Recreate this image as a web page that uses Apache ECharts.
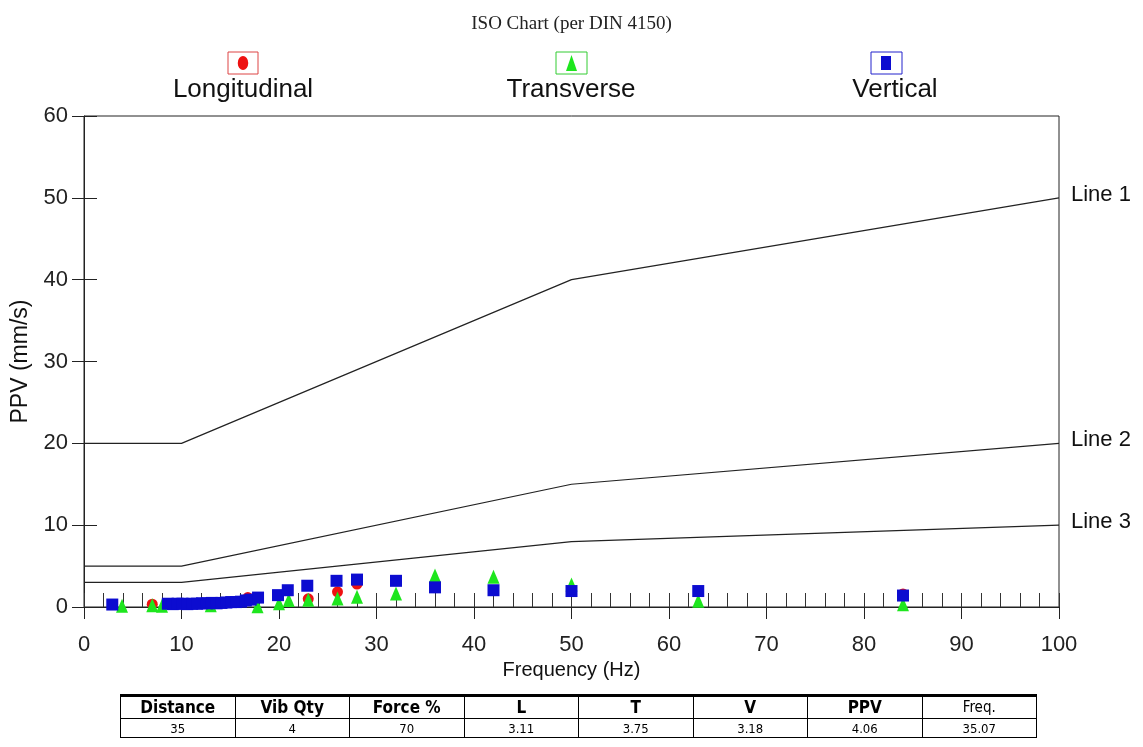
<!DOCTYPE html>
<html><head><meta charset="utf-8">
<script src="https://cdn.jsdelivr.net/npm/echarts@6/dist/echarts.min.js"></script>
<style>
html,body{margin:0;padding:0;background:#fff;}
#chart{position:absolute;left:0;top:0;width:1143px;height:747px;}
#tbl{position:absolute;left:120px;top:694px;width:917px;border-collapse:collapse;table-layout:fixed;font-family:"DejaVu Sans Condensed","Liberation Sans Narrow","Liberation Sans",sans-serif;}
#tbl td{border:1px solid #000;text-align:center;padding:0;color:#000;line-height:1;}
#tbl tr.h td{height:21px;font-weight:bold;font-size:17px;border-top:3px solid #000;}
#tbl tr.h td.n{font-weight:normal;font-size:15px;}
#tbl tr.v td{height:18px;font-size:13px;}
</style></head><body>
<div id="chart"></div>
<table id="tbl"><tbody><tr class="h" id="hrow"></tr><tr class="v" id="vrow"></tr></tbody></table>
<script>
// ---- data ----
const xTickStep = 10;
const yTickStep = 10;
const lineFreq = [0, 10, 50, 100];
const line1 = [20, 20, 40, 50];
const line2 = [5, 5, 15, 20];
const line3 = [3, 3, 8, 10];
const lineNames = ['Line 1', 'Line 2', 'Line 3'];

const longFreq = [7, 13, 16.8, 23, 26, 28, 84];
const longPPV  = [0.35, 0.4, 1.15, 1.0, 1.85, 2.8, 1.6];

const transFreq = [3.9, 7, 8, 13, 17.8, 20, 21, 23, 26, 28, 32, 36, 42, 50, 63, 84];
const transPPV  = [0.15, 0.2, 0.15, 0.2, 0.1, 0.45, 0.85, 0.9, 1.05, 1.25, 1.65, 3.85, 3.7, 2.75, 0.75, 0.35];

const vertFreq = [2.9, 8.6, 9.1, 9.6, 10.1, 10.6, 11.1, 11.6, 12.1, 12.6, 13.1, 13.6, 14.1, 14.6, 15.1, 15.6, 16.1, 16.6, 17.1, 17.85, 19.9, 20.9, 22.9, 25.9, 28, 32, 36, 42, 50, 63, 84];
const vertPPV  = [0.3, 0.4, 0.35, 0.4, 0.4, 0.35, 0.4, 0.4, 0.45, 0.45, 0.5, 0.45, 0.5, 0.55, 0.6, 0.6, 0.65, 0.8, 0.9, 1.15, 1.45, 2.05, 2.6, 3.2, 3.35, 3.2, 2.4, 2.05, 1.95, 1.95, 1.4];

const legendNames = ['Longitudinal', 'Transverse', 'Vertical'];
const tableHeaders = ['Distance', 'Vib Qty', 'Force %', 'L', 'T', 'V', 'PPV', 'Freq.'];
const tableValues  = ['35', '4', '70', '3.11', '3.75', '3.18', '4.06', '35.07'];

// ---- table ----
const hrow = document.getElementById('hrow');
const vrow = document.getElementById('vrow');
tableHeaders.forEach(function (h, i) {
  const td = document.createElement('td');
  td.textContent = h;
  if (i === tableHeaders.length - 1) td.className = 'n';
  hrow.appendChild(td);
});
tableValues.forEach(function (v) {
  const td = document.createElement('td');
  td.textContent = v;
  vrow.appendChild(td);
});

// ---- chart ----
const FONT = 'Liberation Sans, Arial, sans-serif';
const pair = (xs, ys) => xs.map((x, i) => [x, ys[i]]);
const colors = { L: '#ee1111', T: '#1ee61e', V: '#0c0cd0' };
const lineData = [line1, line2, line3];

const chart = echarts.init(document.getElementById('chart'), null, { renderer: 'canvas' });

const axisCommon = { type: 'value', splitLine: { show: false } };

const option = {
  animation: false,
  backgroundColor: '#fff',
  title: {
    text: 'ISO Chart (per DIN 4150)',
    left: 'center', top: 10,
    textStyle: { fontFamily: 'Liberation Serif, Times New Roman, serif', fontSize: 19, fontWeight: 'normal', color: '#222' }
  },
  grid: { left: 84, right: 84, top: 116, bottom: 140, containLabel: false, outerBoundsMode: 'none',
          show: true, borderColor: '#222', borderWidth: 1, backgroundColor: 'transparent' },
  xAxis: [
    Object.assign({}, axisCommon, {
      min: 0, max: 100, interval: xTickStep, position: 'bottom',
      name: 'Frequency (Hz)', nameLocation: 'middle', nameGap: 43,
      nameTextStyle: { fontFamily: FONT, fontSize: 20, color: '#111' },
      axisLine: { show: true, onZero: false, lineStyle: { color: '#222', width: 1 } },
      axisTick: { show: true, inside: false, length: 12, lineStyle: { color: '#222' } },
      axisLabel: { fontFamily: FONT, fontSize: 22, color: '#222', margin: 27 }
    }),
    Object.assign({}, axisCommon, {
      min: 0, max: 100, interval: xTickStep, position: 'bottom',
      axisLine: { show: false, onZero: false },
      axisTick: { show: true, inside: true, length: 14, lineStyle: { color: '#333' } },
      minorTick: { show: true, splitNumber: 5, length: 14, lineStyle: { color: '#333' } },
      axisLabel: { show: false }
    })
  ],
  yAxis: [
    Object.assign({}, axisCommon, {
      min: 0, max: 60, interval: yTickStep, position: 'left',
      name: 'PPV (mm/s)', nameLocation: 'middle', nameGap: 52,
      nameTextStyle: { fontFamily: FONT, fontSize: 23, color: '#111' },
      axisLine: { show: true, onZero: false, lineStyle: { color: '#222', width: 1 } },
      axisTick: { show: true, inside: false, length: 12, lineStyle: { color: '#222' } },
      axisLabel: { fontFamily: FONT, fontSize: 22, color: '#222', margin: 16 }
    }),
    Object.assign({}, axisCommon, {
      min: 0, max: 60, interval: yTickStep, position: 'left',
      axisLine: { show: false, onZero: false },
      axisTick: { show: true, inside: true, length: 13, lineStyle: { color: '#222' } },
      axisLabel: { show: false }
    })
  ],
  series: [].concat(
    lineData.map(function (ys, k) {
      return {
        type: 'line', name: lineNames[k], data: pair(lineFreq, ys),
        showSymbol: false, symbol: 'none', silent: true,
        lineStyle: { color: '#222', width: 1.2 },
        endLabel: { show: true, formatter: lineNames[k], distance: 12, offset: [0, -3],
                    fontFamily: FONT, fontSize: 22, color: '#111' }
      };
    }),
    [
      { type: 'scatter', name: legendNames[0], data: pair(longFreq, longPPV),
        symbol: 'circle', symbolSize: 11, itemStyle: { color: colors.L, opacity: 1 } },
      { type: 'scatter', name: legendNames[1], data: pair(transFreq, transPPV),
        symbol: 'triangle', symbolSize: [12, 14], itemStyle: { color: colors.T, opacity: 1 } },
      { type: 'scatter', name: legendNames[2], data: pair(vertFreq, vertPPV),
        symbol: 'rect', symbolSize: 12, itemStyle: { color: colors.V, opacity: 1 } }
    ]
  ),
  graphic: [
    // Longitudinal
    { type: 'rect', shape: { x: 228, y: 52, width: 30, height: 22 }, style: { fill: '#fff', stroke: '#d44', lineWidth: 1 } },
    { type: 'circle', x: 243, y: 63, scaleX: 0.75, shape: { cx: 0, cy: 0, r: 7 }, style: { fill: colors.L } },
    { type: 'text', x: 243, y: 90, style: { text: legendNames[0], fontFamily: FONT, fontSize: 26, fill: '#111', align: 'center', verticalAlign: 'middle' } },
    // Transverse
    { type: 'rect', shape: { x: 556, y: 52, width: 31, height: 22 }, style: { fill: '#fff', stroke: '#3c3', lineWidth: 1 } },
    { type: 'polygon', shape: { points: [[571.5, 55], [566, 71], [577, 71]] }, style: { fill: colors.T } },
    { type: 'text', x: 571, y: 90, style: { text: legendNames[1], fontFamily: FONT, fontSize: 26, fill: '#111', align: 'center', verticalAlign: 'middle' } },
    // Vertical
    { type: 'rect', shape: { x: 871, y: 52, width: 31, height: 22 }, style: { fill: '#fff', stroke: '#22c', lineWidth: 1 } },
    { type: 'rect', shape: { x: 881, y: 56, width: 10, height: 14 }, style: { fill: colors.V } },
    { type: 'text', x: 895, y: 90, style: { text: legendNames[2], fontFamily: FONT, fontSize: 26, fill: '#111', align: 'center', verticalAlign: 'middle' } }
  ]
};
chart.setOption(option);
</script>
</body></html>
